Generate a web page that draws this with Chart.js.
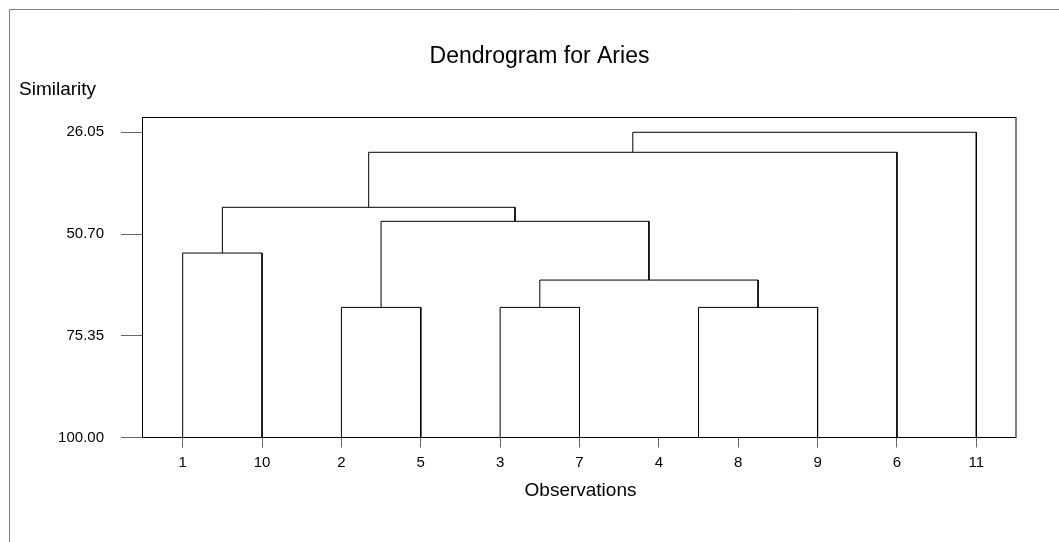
<!DOCTYPE html>
<html>
<head>
<meta charset="utf-8">
<script src="https://cdn.jsdelivr.net/npm/chart.js@4/dist/chart.umd.min.js"></script>
<style>
  html, body { margin: 0; padding: 0; background: #fff; }
  #wrap { width: 1059px; height: 542px; }
</style>
</head>
<body>
<div id="wrap"><canvas id="c" width="1059" height="542"></canvas></div>
<script>
// Leaf order along the x axis
const observations = ['1', '10', '2', '5', '3', '7', '4', '8', '9', '6', '11'];
// Merge steps: child ids (0..10 leaves in display order, 11+ = merged clusters in order)
const mergeLeft  = [6, 0, 2, 4, 11, 14, 13, 12, 18, 19];
const mergeRight = [7, 1, 3, 5, 8, 15, 16, 17, 9, 10];
const mergeSimilarity = [100.00, 55.31, 68.48, 68.48, 68.48, 61.86, 47.63, 44.23, 30.90, 26.05];
const yTickValues = [26.05, 50.70, 75.35, 100.00];
const titleText = 'Dendrogram for Aries';
const yTitle = 'Similarity';
const xTitle = 'Observations';

// Build node positions and heights
const nodeX = observations.map((_, i) => i);
const nodeH = observations.map(() => 100);
const datasets = [];
for (let k = 0; k < mergeLeft.length; k++) {
  const a = mergeLeft[k], b = mergeRight[k], h = mergeSimilarity[k];
  datasets.push({
    data: [
      { x: nodeX[a], y: nodeH[a] },
      { x: nodeX[a], y: h },
      { x: nodeX[b], y: h },
      { x: nodeX[b], y: nodeH[b] }
    ],
    showLine: true,
    borderColor: '#000',
    borderWidth: 1,
    pointRadius: 0,
    fill: false,
    tension: 0,
    clip: false
  });
  nodeX.push((nodeX[a] + nodeX[b]) / 2);
  nodeH.push(h);
}

const FONT = '"Liberation Sans", Arial, sans-serif';

const decor = {
  id: 'decor',
  beforeDraw(chart) {
    const ctx = chart.ctx;
    ctx.save();
    ctx.fillStyle = '#fff';
    ctx.fillRect(0, 0, chart.width, chart.height);
    ctx.strokeStyle = '#808080';
    ctx.lineWidth = 1;
    ctx.beginPath();
    ctx.moveTo(9.5, chart.height);
    ctx.lineTo(9.5, 9.5);
    ctx.lineTo(chart.width, 9.5);
    ctx.stroke();
    ctx.restore();
  },
  afterDraw(chart) {
    const ctx = chart.ctx;
    const a = chart.chartArea;
    ctx.save();
    ctx.strokeStyle = '#000';
    ctx.lineWidth = 1;
    ctx.strokeRect(Math.round(a.left) - 0.5, Math.round(a.top) + 0.5,
                   Math.round(a.right) - Math.round(a.left) + 0.5, a.bottom - Math.round(a.top) - 0.5);
    ctx.fillStyle = '#000';
    ctx.textBaseline = 'middle';
    ctx.textAlign = 'center';
    ctx.font = '23px ' + FONT;
    ctx.fillText(titleText, 539.5, 57);
    ctx.font = '19px ' + FONT;
    ctx.textAlign = 'left';
    ctx.fillText(yTitle, 19, 90);
    ctx.textAlign = 'center';
    ctx.fillText(xTitle, (a.left + a.right) / 2 + 1, 491);
    ctx.restore();
  }
};

new Chart(document.getElementById('c'), {
  type: 'scatter',
  data: { datasets },
  options: {
    responsive: false,
    animation: false,
    events: [],
    layout: { padding: { left: 0, top: 117, right: 43, bottom: 0 } },
    plugins: { legend: { display: false }, tooltip: { enabled: false }, title: { display: false } },
    scales: {
      x: {
        type: 'linear',
        min: -0.5,
        max: 10.5,
        afterBuildTicks: (s) => { s.ticks = observations.map((_, i) => ({ value: i })); },
        afterFit: (s) => { s.height = 104.5; },
        ticks: {
          autoSkip: false,
          maxRotation: 0,
          padding: 6,
          color: '#000',
          font: { family: FONT, size: 15 },
          callback: (v, i) => observations[i]
        },
        grid: { drawOnChartArea: false, drawTicks: true, tickLength: 10, color: '#666' },
        border: { display: false }
      },
      y: {
        type: 'linear',
        reverse: true,
        min: 22.35,
        max: 100,
        afterBuildTicks: (s) => { s.ticks = yTickValues.map(v => ({ value: v })); },
        afterFit: (s) => { s.width = 143; },
        ticks: {
          padding: 17,
          color: '#000',
          font: { family: FONT, size: 15 },
          callback: (v) => Number(v).toFixed(2)
        },
        grid: { drawOnChartArea: false, drawTicks: true, tickLength: 22, color: '#666' },
        border: { display: false }
      }
    }
  },
  plugins: [decor]
});
</script>
</body>
</html>
